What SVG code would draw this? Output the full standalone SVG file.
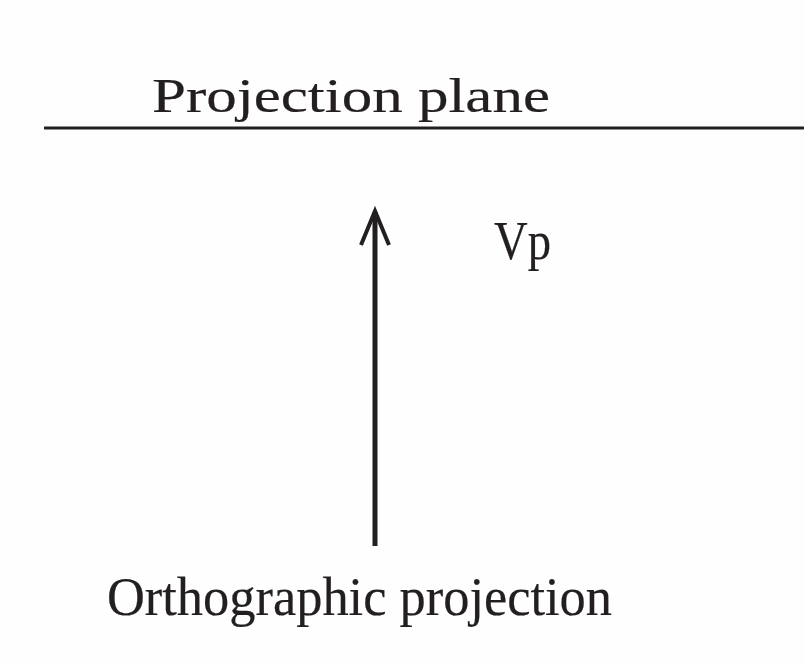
<svg xmlns="http://www.w3.org/2000/svg" width="804" height="664" viewBox="0 0 804 664">
<style>
text{font-family:"Liberation Serif","DejaVu Serif",serif;fill:#231f20;stroke:#231f20;stroke-width:0.2}
.ln{stroke:#231f20;fill:none}
</style>
<rect width="804" height="664" fill="#fefefe"/>
<g id="plane">
<line class="ln" x1="44" y1="128" x2="804" y2="128" stroke-width="3"/>
<text x="152" y="112" font-size="48" textLength="398" lengthAdjust="spacingAndGlyphs">Projection plane</text>
</g>
<g id="vp">
<text x="494" y="259" font-size="54" textLength="57" lengthAdjust="spacingAndGlyphs">Vp</text>
</g>
<g id="caption">
<text x="107" y="615" font-size="54" textLength="505" lengthAdjust="spacingAndGlyphs">Orthographic projection</text>
</g>
<g id="connectors">
<line class="ln" x1="375" y1="546" x2="375" y2="212" stroke-width="5"/>
<polyline class="ln" points="361,245 375,211 389,245" stroke-width="4"/>
</g>
</svg>
